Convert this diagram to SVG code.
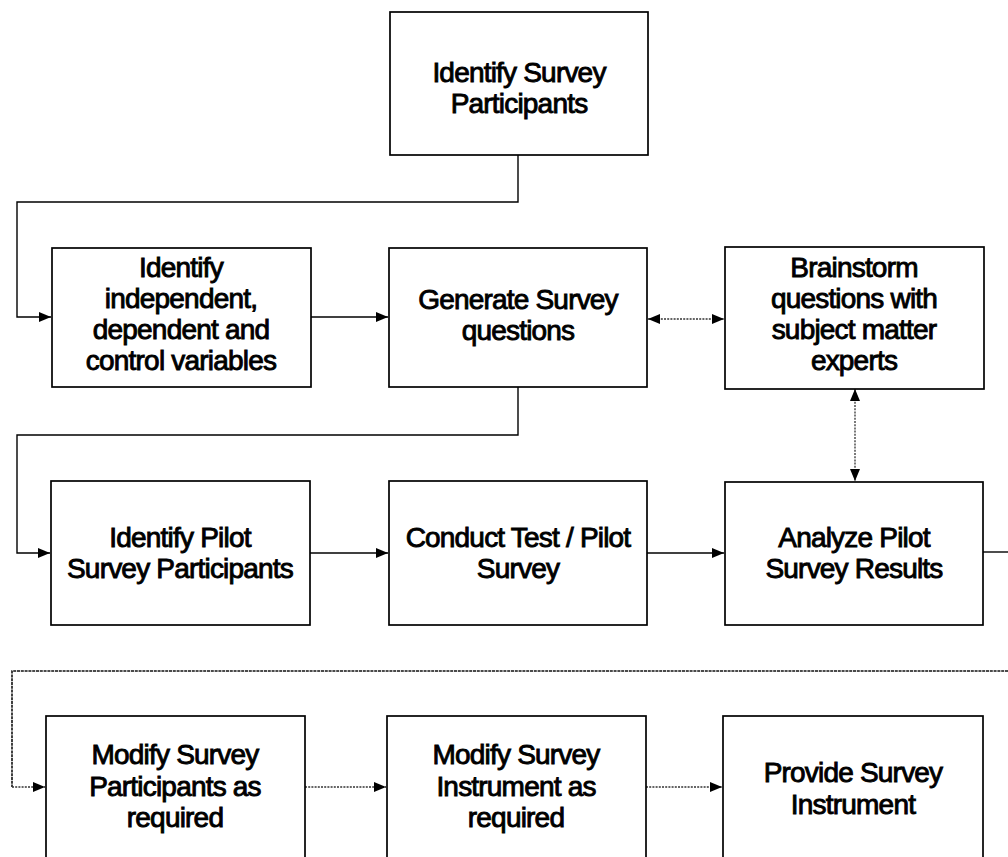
<svg xmlns="http://www.w3.org/2000/svg" width="1008" height="857" viewBox="0 0 1008 857">
  <style>
    .box { fill: #ffffff; stroke: #000000; stroke-width: 1.7; }
    .lbl { font-family: "Liberation Sans", Arial, sans-serif; font-size: 28px; letter-spacing: -0.8px; fill: #000000; stroke: #000000; stroke-width: 0.9; text-anchor: middle; }
    .solid { fill: none; stroke: #000000; stroke-width: 1.4; }
    .dark-dot { fill: none; stroke: #111111; stroke-width: 1.6; stroke-dasharray: 3 0.8; }
    .dot { fill: none; stroke: #333333; stroke-width: 1.3; stroke-dasharray: 2 1.2; }
  </style>
  <defs>
    <marker id="arrow" viewBox="0 0 12 10" refX="12" refY="5" markerWidth="12" markerHeight="10" markerUnits="userSpaceOnUse" orient="auto-start-reverse">
      <path d="M0,0 L12,5 L0,10 Z" fill="#000000"/>
    </marker>
  </defs>
  <rect width="1008" height="857" fill="#ffffff"/>

  <g id="connectors">
    <!-- start box down into row 1 -->
    <path class="solid" d="M518,155 V202 H17 V317 H51" marker-end="url(#arrow)"/>
    <path class="solid" d="M311,317 H388" marker-end="url(#arrow)"/>
    <path class="dot" d="M648,319 H724" marker-start="url(#arrow)" marker-end="url(#arrow)"/>
    <path class="dot" d="M855,389 V481" marker-start="url(#arrow)" marker-end="url(#arrow)"/>
    <!-- row 1 down into row 2 -->
    <path class="solid" d="M518,387 V435 H17 V553 H50" marker-end="url(#arrow)"/>
    <path class="solid" d="M310,553 H388" marker-end="url(#arrow)"/>
    <path class="solid" d="M647,553 H724" marker-end="url(#arrow)"/>
    <path class="solid" d="M983,552 H1008"/>
    <!-- wrap into row 3 -->
    <path class="dark-dot" d="M1008,671 H12 V787"/>
    <path class="dot" d="M12,787 H45" marker-end="url(#arrow)"/>
    <path class="dot" d="M305,787 H386" marker-end="url(#arrow)"/>
    <path class="dot" d="M646,787 H722" marker-end="url(#arrow)"/>
  </g>

  <g id="identify-survey-participants">
    <rect class="box" x="390" y="12" width="258" height="143"/>
    <text class="lbl" x="519" y="82">Identify Survey</text>
    <text class="lbl" x="519" y="113">Participants</text>
  </g>

  <g id="identify-variables">
    <rect class="box" x="52" y="248" width="259" height="139"/>
    <text class="lbl" x="181" y="277">Identify</text>
    <text class="lbl" x="181" y="308">independent,</text>
    <text class="lbl" x="181" y="339">dependent and</text>
    <text class="lbl" x="181" y="370">control variables</text>
  </g>

  <g id="generate-survey-questions">
    <rect class="box" x="389" y="248" width="258" height="139"/>
    <text class="lbl" x="518" y="309">Generate Survey</text>
    <text class="lbl" x="518" y="340">questions</text>
  </g>

  <g id="brainstorm-questions">
    <rect class="box" x="725" y="247" width="259" height="142"/>
    <text class="lbl" x="854" y="277">Brainstorm</text>
    <text class="lbl" x="854" y="308">questions with</text>
    <text class="lbl" x="854" y="339">subject matter</text>
    <text class="lbl" x="854" y="370">experts</text>
  </g>

  <g id="identify-pilot-participants">
    <rect class="box" x="51" y="481" width="259" height="144"/>
    <text class="lbl" x="180" y="547">Identify Pilot</text>
    <text class="lbl" x="180" y="578">Survey Participants</text>
  </g>

  <g id="conduct-pilot-survey">
    <rect class="box" x="389" y="481" width="258" height="144"/>
    <text class="lbl" x="518" y="547">Conduct Test / Pilot</text>
    <text class="lbl" x="518" y="578">Survey</text>
  </g>

  <g id="analyze-pilot-results">
    <rect class="box" x="725" y="482" width="258" height="143"/>
    <text class="lbl" x="854" y="547">Analyze Pilot</text>
    <text class="lbl" x="854" y="578">Survey Results</text>
  </g>

  <g id="modify-participants">
    <rect class="box" x="46" y="716" width="259" height="160"/>
    <text class="lbl" x="175" y="764">Modify Survey</text>
    <text class="lbl" x="175" y="796">Participants as</text>
    <text class="lbl" x="175" y="827">required</text>
  </g>

  <g id="modify-instrument">
    <rect class="box" x="387" y="716" width="259" height="160"/>
    <text class="lbl" x="516" y="764">Modify Survey</text>
    <text class="lbl" x="516" y="796">Instrument as</text>
    <text class="lbl" x="516" y="827">required</text>
  </g>

  <g id="provide-instrument">
    <rect class="box" x="723" y="716" width="260" height="160"/>
    <text class="lbl" x="853" y="782">Provide Survey</text>
    <text class="lbl" x="853" y="814">Instrument</text>
  </g>
</svg>
